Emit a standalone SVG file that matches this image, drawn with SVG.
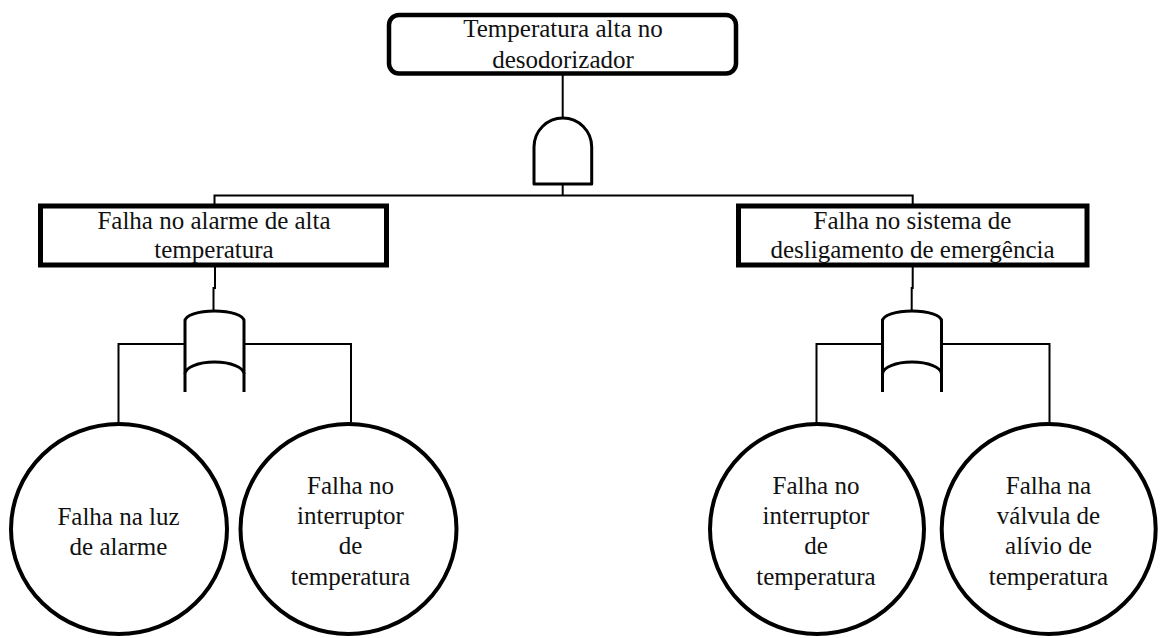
<svg xmlns="http://www.w3.org/2000/svg" width="1165" height="638" viewBox="0 0 1165 638">
  <style>
    text { font-family: "Liberation Serif", Tinos, "Times New Roman", "DejaVu Serif", serif; font-size: 25px; fill: #111; text-anchor: middle; }
    .top { fill: #fff; stroke: #000; stroke-width: 4.5; }
    .evt { fill: #fff; stroke: #000; stroke-width: 5; }
    .basic { fill: #fff; stroke: #000; stroke-width: 4; }
    .gate { fill: #fff; stroke: #000; stroke-width: 3; stroke-linejoin: round; }
    .wire { fill: none; stroke: #000; stroke-width: 2; }
  </style>

  <rect width="1165" height="638" fill="#fff"/>

  <!-- connectors -->
  <g id="connectors" class="wire">
    <path d="M562.7,75 V119"/>
    <path d="M562.7,184 V195.5"/>
    <path d="M214.5,206 V195.5 H912.7 V206"/>
    <path d="M215,266 V288 H213.5 V311"/>
    <path d="M184.5,344 H118.5 V423"/>
    <path d="M244,344 H351 V423"/>
    <path d="M912.7,266 V288 H911.7 V311"/>
    <path d="M882.5,344 H816.5 V423"/>
    <path d="M941.5,344 H1049.5 V423"/>
  </g>

  <!-- top event -->
  <g id="top-event">
    <rect class="top" x="389" y="15" width="347" height="58.5" rx="10" ry="10"/>
    <text x="563" y="37">Temperatura alta no</text>
    <text x="563" y="68">desodorizador</text>
  </g>

  <!-- AND gate -->
  <g id="gate-and">
    <path class="gate" d="M534,184 V147 A28.85,29 0 0 1 591.7,147 V184 Z"/>
  </g>

  <!-- intermediate events -->
  <g id="event-alarm">
    <rect class="evt" x="40.5" y="206" width="346" height="59"/>
    <text x="214" y="229">Falha no alarme de alta</text>
    <text x="214" y="258">temperatura</text>
  </g>

  <g id="event-shutdown">
    <rect class="evt" x="738.5" y="206" width="348.5" height="59"/>
    <text x="912.5" y="229">Falha no sistema de</text>
    <text x="912.5" y="258">desligamento de emergência</text>
  </g>

  <!-- OR gates -->
  <g id="gate-or-left">
    <path class="gate" d="M185,392 V321 A29.5,10 0 0 1 244,321 V392"/>
    <path class="gate" fill="none" d="M185,374 A29.5,12 0 0 1 244,374"/>
  </g>

  <g id="gate-or-right">
    <path class="gate" d="M882.5,392 V321 A29.5,10 0 0 1 941.5,321 V392"/>
    <path class="gate" fill="none" d="M882.5,374 A29.5,12 0 0 1 941.5,374"/>
  </g>

  <!-- basic events -->
  <g id="basic-light">
    <ellipse class="basic" cx="119" cy="529" rx="108" ry="105"/>
    <text x="118.5" y="525">Falha na luz</text>
    <text x="118.5" y="555">de alarme</text>
  </g>

  <g id="basic-switch-left">
    <ellipse class="basic" cx="348.5" cy="529" rx="108" ry="105"/>
    <text x="350.5" y="494">Falha no</text>
    <text x="350.5" y="524">interruptor</text>
    <text x="350.5" y="554">de</text>
    <text x="350.5" y="585">temperatura</text>
  </g>

  <g id="basic-switch-right">
    <ellipse class="basic" cx="817" cy="529" rx="107" ry="105"/>
    <text x="816" y="494">Falha no</text>
    <text x="816" y="524">interruptor</text>
    <text x="816" y="554">de</text>
    <text x="816" y="585">temperatura</text>
  </g>

  <g id="basic-valve">
    <ellipse class="basic" cx="1048.7" cy="529" rx="107" ry="105"/>
    <text x="1048.5" y="494">Falha na</text>
    <text x="1048.5" y="524">válvula de</text>
    <text x="1048.5" y="554">alívio de</text>
    <text x="1048.5" y="585">temperatura</text>
  </g>
</svg>
